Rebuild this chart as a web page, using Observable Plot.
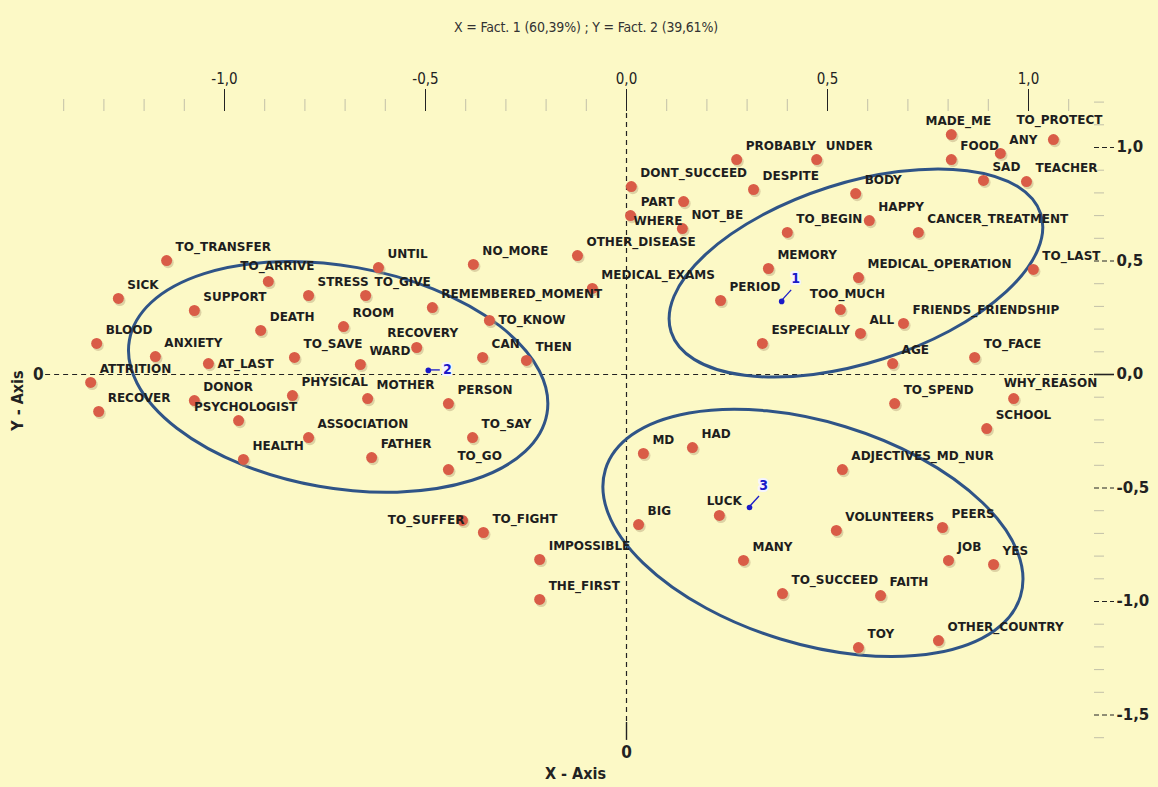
<!DOCTYPE html>
<html>
<head>
<meta charset="utf-8">
<script src="https://cdn.jsdelivr.net/npm/d3@7"></script>
<script src="https://cdn.jsdelivr.net/npm/@observablehq/plot@0.6"></script>
<style>
  html, body { margin: 0; padding: 0; background: #FCF9C6; }
  #title {
    height: 34px; padding-top: 10px; line-height: 34px;
    text-align: center; padding-left: 14px; box-sizing: content-box;
    font-family: "Liberation Sans Narrow", "DejaVu Sans Condensed", "Roboto Condensed", Roboto, sans-serif;
    font-size: 14px; color: #333; letter-spacing: -0.2px;
  }
  #chart svg { display: block; }
</style>
</head>
<body>
<div id="title">X = Fact. 1 (60,39%) ; Y = Fact. 2 (39,61%)</div>
<div id="chart"></div>
<script>
// ---- data: word coordinates on factor 1 (x) and factor 2 (y) ----
const words = [
  "TO_TRANSFER","SICK","TO_ARRIVE","SUPPORT","STRESS","TO_GIVE","UNTIL","DEATH","ROOM","BLOOD",
  "ANXIETY","AT_LAST","TO_SAVE","RECOVERY","WARD","ATTRITION","PHYSICAL","MOTHER","DONOR","RECOVER",
  "PSYCHOLOGIST","ASSOCIATION","HEALTH","FATHER","PERSON","TO_SAY","TO_GO","NO_MORE","OTHER_DISEASE","MEDICAL_EXAMS",
  "REMEMBERED_MOMENT","TO_KNOW","CAN","THEN","TO_SUFFER","TO_FIGHT","IMPOSSIBLE","THE_FIRST","DONT_SUCCEED","PROBABLY",
  "UNDER","DESPITE","PART","WHERE","NOT_BE","BODY","TO_BEGIN","HAPPY","CANCER_TREATMENT","MEMORY",
  "MEDICAL_OPERATION","PERIOD","TOO_MUCH","ESPECIALLY","ALL","FRIENDS_FRIENDSHIP","AGE","TO_FACE","MADE_ME","FOOD",
  "ANY","TO_PROTECT","SAD","TEACHER","TO_LAST","WHY_REASON","TO_SPEND","SCHOOL","MD","HAD",
  "ADJECTIVES_MD_NUR","LUCK","BIG","VOLUNTEERS","PEERS","MANY","JOB","YES","TO_SUCCEED","FAITH",
  "TOY","OTHER_COUNTRY"
];
const fact1 = [
  -1.144,-1.264,-0.891,-1.075,-0.791,-0.649,-0.617,-0.910,-0.704,-1.318,
  -1.172,-1.040,-0.826,-0.522,-0.662,-1.333,-0.831,-0.644,-1.075,-1.313,
  -0.965,-0.791,-0.953,-0.634,-0.443,-0.383,-0.443,-0.381,-0.122,-0.085,
  -0.483,-0.341,-0.358,-0.249,-0.408,-0.356,-0.216,-0.216,0.012,0.274,
  0.473,0.316,0.142,0.010,0.139,0.570,0.400,0.604,0.726,0.353,
  0.577,0.234,0.532,0.338,0.582,0.689,0.662,0.866,0.808,0.808,
  0.930,1.062,0.888,0.995,1.012,0.963,0.667,0.896,0.042,0.164,
  0.537,0.231,0.030,0.522,0.786,0.291,0.801,0.913,0.388,0.632,
  0.577,0.776
];
const fact2 = [
  0.502,0.335,0.410,0.282,0.348,0.348,0.471,0.194,0.211,0.137,
  0.079,0.048,0.075,0.119,0.044,-0.035,-0.093,-0.106,-0.115,-0.163,
  -0.203,-0.278,-0.374,-0.366,-0.128,-0.278,-0.419,0.485,0.524,0.379,
  0.295,0.238,0.075,0.062,-0.643,-0.696,-0.815,-0.991,0.828,0.947,
  0.947,0.815,0.762,0.700,0.643,0.797,0.626,0.678,0.626,0.467,
  0.427,0.326,0.286,0.137,0.181,0.225,0.048,0.075,1.057,0.947,
  0.974,1.035,0.855,0.850,0.463,-0.106,-0.128,-0.238,-0.348,-0.322,
  -0.419,-0.621,-0.661,-0.687,-0.674,-0.819,-0.819,-0.837,-0.965,-0.974,
  -1.203,-1.172
];

// cluster centres
const clusterIds = ["1","2","3"];
const clusterX = [0.386,-0.493,0.306];
const clusterY = [0.322,0.018,-0.586];

// axis ticks
const majorXTicks = [-1,-0.5,0,0.5,1];
const minorXTicks = d3.range(-14, 12).map(i => i / 10).filter(v => !majorXTicks.some(m => Math.abs(m - v) < 1e-9));
const majorYTicks = [-1.5,-1,-0.5,0.5,1];
const minorYTicks = d3.range(-16, 13).map(i => i / 10).filter(v => ![...majorYTicks, 0].some(m => Math.abs(m - v) < 1e-9));

// ---- layout / style config ----
const W = 1158, H = 743;
const X0 = 626, XU = 402, Y0 = 330, YU = 227;   // pixel position of origin and pixels per unit
const xDomain = [-1.5, 1.3], yDomain = [-1.8, 1.3];

// label placement exceptions: [textAnchor, dx, dy]
const defaultPlace = ["start", 9, -13];
const placement = {
  TO_ARRIVE: ["middle", 9, -15], AT_LAST: ["start", 9, 1], RECOVERY: ["middle", 6, -14],
  PSYCHOLOGIST: ["middle", 7, -13], TO_KNOW: ["start", 9, 0], TO_SUFFER: ["end", 2, 0],
  PART: ["end", -9, 1], WHERE: ["start", 3, 6], TOO_MUCH: ["middle", 7, -15],
  MADE_ME: ["middle", 7, -13], TO_PROTECT: ["middle", 6, -19], WHY_REASON: ["start", -10, -15],
  LUCK: ["middle", 5, -14]
};

// ellipses: centre in data units, semi-axes in px, rotation in degrees
const ellipses = [
  {cx: 0.572, cy: 0.445, rx: 194, ry: 90, angle: -17.7},
  {cx: -0.716, cy: -0.013, rx: 212, ry: 111, angle: 10},
  {cx: 0.465, cy: -0.700, rx: 217, ry: 111, angle: 17}
];
const leaders = [[10, -11], [12, 0], [10, -11]];
const numberOffsets = [[14, -23], [19, -1], [14, -22]];

const fmt = d => (d < 0 ? "-" : "") + Math.abs(d).toFixed(1).replace(".", ",");

const pts = words.map((w, i) => ({w, x: fact1[i], y: fact2[i], place: placement[w] || defaultPlace}));
const groups = d3.groups(pts, d => d.place.join("|"));
const clusters = clusterIds.map((id, i) => ({id, x: clusterX[i], y: clusterY[i], i}));

const labelFont = "DejaVu Sans, Verdana, sans-serif";
const narrowFont = "Liberation Sans Narrow, DejaVu Sans Condensed, Roboto Condensed, Roboto, sans-serif";

function overlay(index, scales) {
  const sx = scales && scales.x ? scales.x : (v => X0 + v * XU);
  const sy = scales && scales.y ? scales.y : (v => Y0 - v * YU);
  const g = d3.create("svg:g");
  ellipses.forEach(e => {
    const cx = sx(e.cx), cy = sy(e.cy);
    g.append("ellipse").attr("cx", cx).attr("cy", cy).attr("rx", e.rx).attr("ry", e.ry)
      .attr("transform", `rotate(${e.angle} ${cx} ${cy})`)
      .attr("fill", "none").attr("stroke", "#2F5487").attr("stroke-width", 3);
  });
  clusters.forEach(c => {
    const px = sx(c.x), py = sy(c.y);
    g.append("line").attr("x1", px).attr("y1", py)
      .attr("x2", px + leaders[c.i][0]).attr("y2", py + leaders[c.i][1])
      .attr("stroke", "#1A1AC8").attr("stroke-width", 1.3);
  });
  return g.node();
}

const marks = [
  // zero lines
  Plot.ruleY([0], {x1: -1.445, x2: 1.162, stroke: "#222", strokeDasharray: "5,4", strokeWidth: 1.2}),
  Plot.ruleX([0], {y1: 1.15, y2: -1.533, stroke: "#222", strokeDasharray: "5,4", strokeWidth: 1.2}),
  Plot.ruleX([0], {y1: -1.533, y2: -1.612, stroke: "#222", strokeWidth: 1.4}),
  // top axis
  Plot.axisX(minorXTicks, {anchor: "top", tickSize: 12, stroke: "#c2c0a8", tickFormat: () => "", label: null}),
  Plot.axisX(majorXTicks, {anchor: "top", tickSize: 22, tickPadding: 5, tickFormat: fmt, label: null,
    fontSize: 15, fontFamily: narrowFont, color: "#222"}),
  // right axis
  Plot.axisY(minorYTicks, {anchor: "right", tickSize: 10, stroke: "#c2c0a8", tickFormat: () => "", label: null}),
  Plot.axisY(majorYTicks, {anchor: "right", tickSize: 20, tickPadding: 3, tickFormat: fmt, label: null,
    strokeDasharray: "5,3", fontSize: 15, fontWeight: "bold", fontFamily: labelFont, color: "#222"}),
  Plot.axisY([0], {anchor: "right", tickSize: 20, tickPadding: 3, tickFormat: fmt, label: null, strokeWidth: 1.6,
    fontSize: 15, fontWeight: "bold", fontFamily: labelFont, color: "#222"}),
  // zero labels & axis titles
  Plot.text(["0"], {x: -1.463, y: 0, text: d => d, fontSize: 17, fontWeight: "bold", fontFamily: narrowFont, fill: "#222"}),
  Plot.text(["0"], {x: 0, y: -1.665, text: d => d, fontSize: 17, fontWeight: "bold", fontFamily: narrowFont, fill: "#222"}),
  Plot.text(["X - Axis"], {x: -0.127, y: -1.758, text: d => d, fontSize: 16, fontWeight: "bold", fontFamily: narrowFont, fill: "#222"}),
  Plot.text(["Y - Axis"], {x: -1.515, y: -0.115, text: d => d, rotate: -90, fontSize: 16, fontWeight: "bold", fontFamily: narrowFont, fill: "#222"}),
  // ellipses & leaders
  overlay,
  // point shadows and points
  Plot.dot(pts, {x: "x", y: "y", r: 5.6, dx: 1.5, dy: 2, fill: "#b9a27a", fillOpacity: 0.45}),
  Plot.dot(pts, {x: "x", y: "y", r: 5.5, fill: "#D95C47"}),
  // word labels
  ...groups.map(([key, arr]) => {
    const [anchor, dx, dy] = arr[0].place;
    return Plot.text(arr, {x: "x", y: "y", text: "w", textAnchor: anchor, dx, dy,
      fontSize: 12, fontWeight: "bold", fontFamily: labelFont, fill: "#1e1e1e"});
  }),
  // cluster centres
  Plot.dot(clusters, {x: "x", y: "y", r: 2.8, fill: "#1A1AC8"}),
  ...clusters.map(c => Plot.text([c], {x: "x", y: "y", text: "id", dx: numberOffsets[c.i][0], dy: numberOffsets[c.i][1],
    fontSize: 14, fontWeight: "bold", fontFamily: narrowFont, fill: "#1A1AC8", stroke: "#f4f4ff", strokeWidth: 4}))
];

const chart = Plot.plot({
  width: W, height: H,
  marginTop: 66, marginRight: 65, marginBottom: 0, marginLeft: 0,
  style: {background: "#FCF9C6", overflow: "visible"},
  x: {domain: xDomain, range: [X0 + xDomain[0] * XU, X0 + xDomain[1] * XU]},
  y: {domain: yDomain, range: [Y0 - yDomain[0] * YU, Y0 - yDomain[1] * YU]},
  marks
});
document.getElementById("chart").appendChild(chart);
</script>
</body>
</html>
